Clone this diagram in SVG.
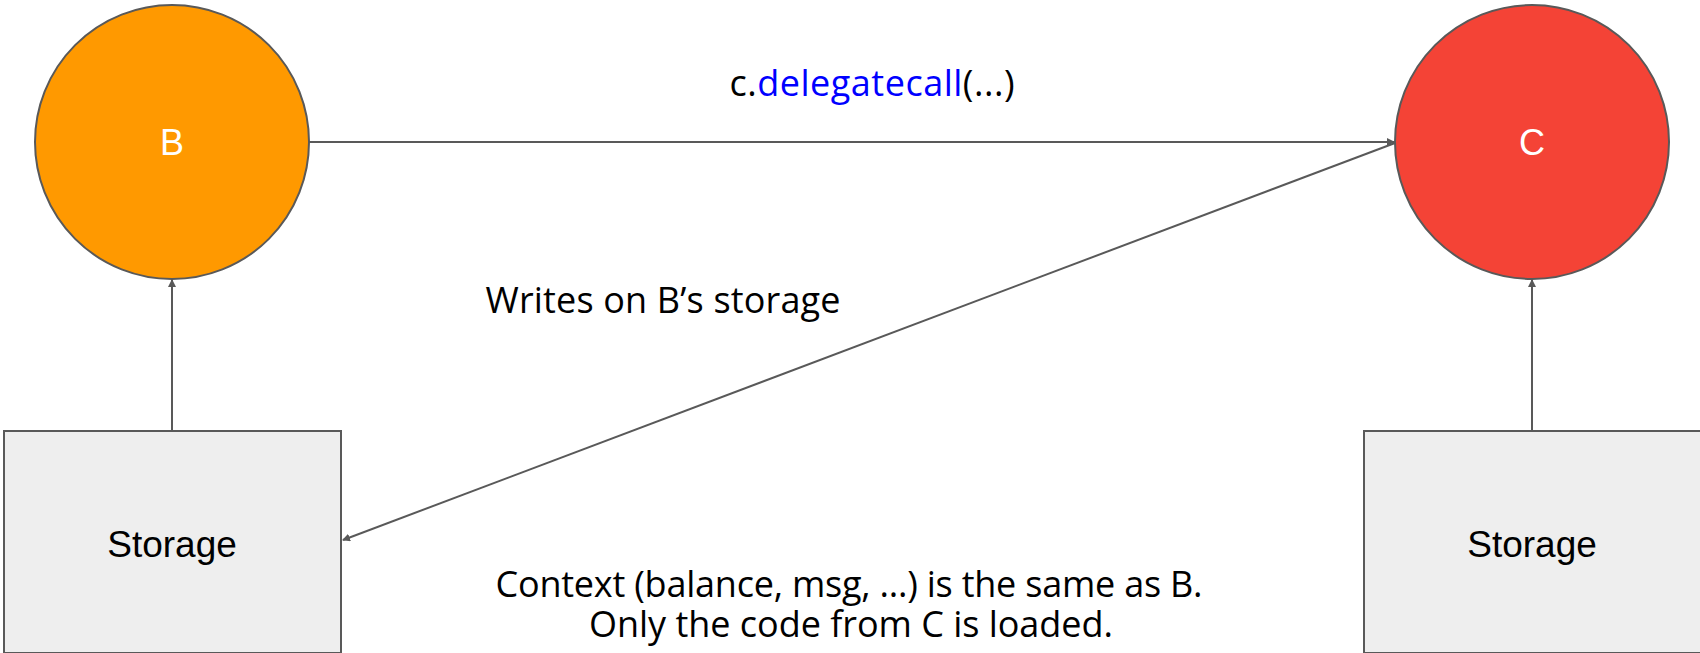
<svg xmlns="http://www.w3.org/2000/svg" width="1700" height="653" viewBox="0 0 1700 653">
<defs>
<style>
.node{stroke:#595959;stroke-width:2}
.lbl{font-family:"Liberation Sans",Arial,sans-serif;text-anchor:middle}
.note{font-family:"Open Sans","Noto Sans",sans-serif;text-anchor:middle;fill:#000;font-size:36px}
.conn{stroke:#595959;stroke-width:2;fill:none;marker-end:url(#ah)}
</style>
<marker id="ah" markerWidth="8" markerHeight="8" refX="7" refY="4" orient="auto" markerUnits="userSpaceOnUse" viewBox="0 0 8 8">
<path d="M0,0 L8,4 L0,8 z" fill="#595959"/>
</marker>
</defs>
<rect width="1700" height="653" fill="#fff"/>
<g id="connectors">
<line class="conn" x1="309" y1="142" x2="1394" y2="142"/>
<line class="conn" x1="1395" y1="143" x2="343" y2="540"/>
<line class="conn" x1="172" y1="431" x2="172" y2="280"/>
<line class="conn" x1="1532" y1="431" x2="1532" y2="280"/>
</g>
<g id="nodeB">
<circle class="node" cx="172" cy="142" r="137" fill="#FF9900"/>
<text class="lbl" x="172" y="155" font-size="36" fill="#fff">B</text>
</g>
<g id="nodeC">
<circle class="node" cx="1532" cy="142" r="137" fill="#F44336"/>
<text class="lbl" x="1532" y="155" font-size="36" fill="#fff">C</text>
</g>
<g id="storageB">
<rect class="node" x="4" y="431" width="337" height="222" fill="#EEEEEE"/>
<text class="lbl" x="172" y="557" font-size="37" fill="#000">Storage</text>
</g>
<g id="storageC">
<rect class="node" x="1364" y="431" width="340" height="222" fill="#EEEEEE"/>
<text class="lbl" x="1532" y="557" font-size="37" fill="#000">Storage</text>
</g>
<g id="labels">
<text class="note" x="872" y="96" textLength="285">c.<tspan fill="#0000FF">delegatecall</tspan>(...)</text>
<text class="note" x="663" y="313" textLength="355">Writes on B’s storage</text>
<text class="note" x="849" y="597" textLength="707">Context (balance, msg, ...) is the same as B.</text>
<text class="note" x="851" y="637" textLength="524">Only the code from C is loaded.</text>
</g>
</svg>
